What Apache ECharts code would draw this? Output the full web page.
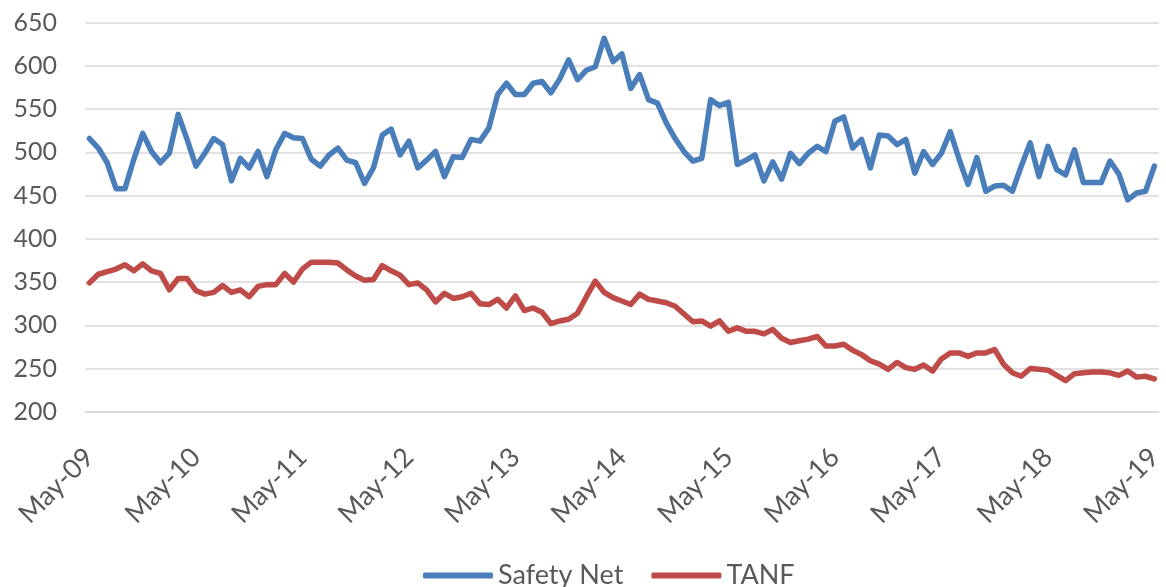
<!DOCTYPE html>
<html>
<head>
<meta charset="utf-8">
<script src="https://cdn.jsdelivr.net/npm/echarts@6/dist/echarts.min.js"></script>
<style>
	html, body {margin:0;padding:0;background:#fff;}
	#main {width:1166px;height:587px;}
</style>
</head>
<body>
<div id="main"></div>
<script>
// months May-09 .. May-19
var monthNames = ['Jan','Feb','Mar','Apr','May','Jun','Jul','Aug','Sep','Oct','Nov','Dec']
var startYear = 2009, startMonth = 4, monthCount = 121

var safetyNet = [
	516,505,488,458,458,492,522,501,488,499,544,515,
	484,499,516,509,467,493,482,501,472,503,522,517,
	516,492,484,497,505,491,488,464,482,520,527,497,
	513,482,491,501,472,495,494,515,513,528,567,580,
	567,567,580,582,569,585,607,584,595,599,632,605,
	614,574,590,561,557,534,516,501,490,493,561,554,
	558,486,491,497,467,489,469,499,487,499,507,501,
	536,541,505,515,482,520,519,509,515,476,501,486,
	499,524,492,463,494,455,461,462,455,484,511,472,
	507,480,474,503,465,465,465,490,475,445,453,455,
	484
]
var tanf = [
	349,359,362,365,370,363,371,363,360,341,354,354,
	340,336,338,346,338,341,333,345,347,347,360,350,
	365,373,373,373,372,364,357,352,353,369,363,358,
	347,349,341,327,337,331,333,337,325,324,330,320,
	334,317,320,315,302,305,307,314,333,351,338,332,
	328,324,336,330,328,326,322,313,304,305,299,305,
	293,297,293,293,290,295,285,280,282,284,287,276,
	276,278,271,266,259,255,249,257,251,249,254,247,
	261,268,268,264,268,268,272,255,245,241,250,249,
	248,242,236,244,245,246,246,245,242,247,240,241,
	238
]

var categories = []
for (var i = 0; i < monthCount; i++) {
	var m = (startMonth + i) % 12
	var y = startYear + Math.floor((startMonth + i) / 12)
	categories.push(monthNames[m] + '-' + String(y % 100).padStart(2, '0'))
}

var yTicks = {min: 200, max: 650, interval: 50}
var fontName = 'Lato'
var textColor = '#595959'
var gridColor = '#d9d9d9'

var myChart = echarts.init(document.getElementById('main'))
var option = {
	animation: false,
	color: ['#4a7ebb', '#be4b48'],
	grid: {
		left: 85,
		right: 1,
		top: 22.7,
		bottom: 175.3,
		containLabel: false
	},
	legend: {
		top: 557,
		left: 418,
		itemWidth: 70,
		itemHeight: 6,
		itemGap: 28,
		icon: 'roundRect',
		textStyle: {
			fontFamily: fontName,
			fontSize: 27,
			color: textColor
		},
		data: ['Safety Net', 'TANF']
	},
	xAxis: {
		type: 'category',
		data: categories,
		boundaryGap: true,
		axisLine: {lineStyle: {color: gridColor, width: 1.5}},
		axisTick: {
			interval: 11,
			length: 8,
			lineStyle: {color: gridColor, width: 1.5}
		},
		axisLabel: {
			interval: 11,
			rotate: 45,
			margin: 41,
			fontFamily: fontName,
			fontSize: 27,
			color: textColor
		}
	},
	yAxis: {
		type: 'value',
		min: yTicks.min,
		max: yTicks.max,
		interval: yTicks.interval,
		axisLine: {show: false},
		axisTick: {show: false},
		splitLine: {lineStyle: {color: gridColor, width: 1.5}},
		axisLabel: {
			margin: 28,
			fontFamily: fontName,
			fontSize: 25,
			color: textColor
		}
	},
	series: [{
		name: 'Safety Net',
		type: 'line',
		data: safetyNet,
		symbol: 'none',
		lineStyle: {width: 5.5, cap: 'round', join: 'round'}
	}, {
		name: 'TANF',
		type: 'line',
		data: tanf,
		symbol: 'none',
		lineStyle: {width: 5.5, cap: 'round', join: 'round'}
	}]
}
myChart.setOption(option)
</script>
</body>
</html>
